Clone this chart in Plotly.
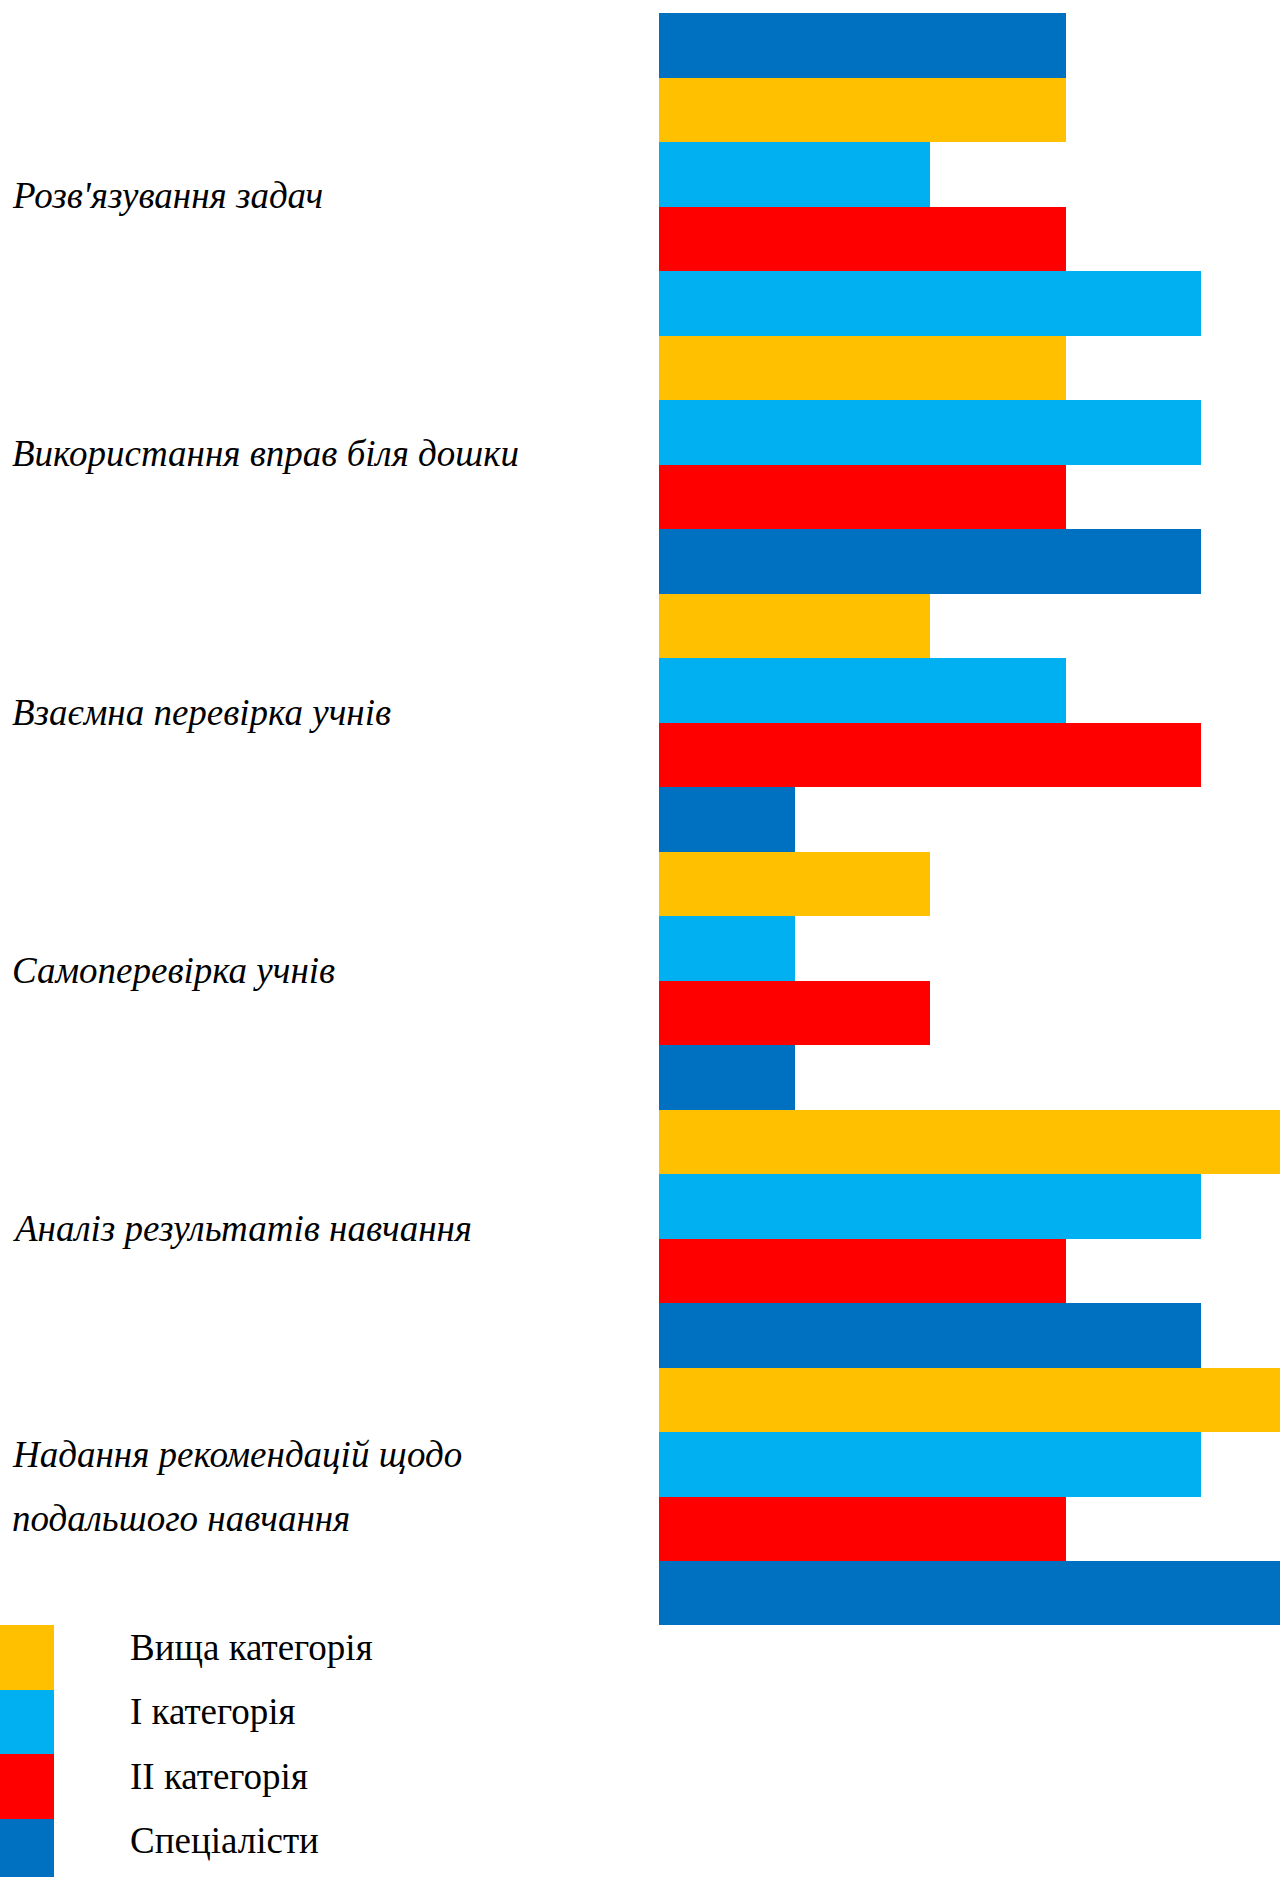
import plotly.graph_objects as go

# ---------------- data ----------------
categories = [
    "Розв'язування задач",
    "Використання вправ біля дошки",
    "Взаємна перевірка учнів",
    "Самоперевірка учнів",
    "Аналіз результатів навчання",
    "Надання рекомендацій щодо\nподальшого навчання",
]
series_names = ["Вища категорія", "І категорія", "ІІ категорія", "Спеціалісти"]
series_colors = ["#FFC000", "#00B0F0", "#FF0000", "#0070C0"]

# bars from top to bottom: series index and value
bar_series = [3, 0, 1, 2, 1, 0, 1, 2, 3, 0, 1, 2, 3, 0, 1, 2, 3, 0, 1, 2, 3, 0, 1, 2, 3]
bar_values = [3, 3, 2, 3, 4, 3, 4, 3, 4, 2, 3, 4, 1, 2, 1, 2, 1, 5, 4, 3, 4, 5, 4, 3, 5]

# ---------------- layout constants ----------------
W, H = 1280, 1877
FONT = "Liberation Serif"
FS = 37
bar_left_px = 659
unit_px = 135.5
top_px = 12.5
bar_h = 64.5
n = len(bar_values)
bottom_px = top_px + n * bar_h

fig = go.Figure()

for s, (name, col) in enumerate(zip(series_names, series_colors)):
    ys = [i for i, b in enumerate(bar_series) if b == s]
    xs = [bar_values[i] for i in ys]
    fig.add_trace(go.Bar(
        x=xs, y=ys, orientation="h", name=name,
        marker=dict(color=col, line=dict(width=0)),
        width=1.0, showlegend=False, xaxis="x", yaxis="y",
    ))
    # legend swatch drawn on its own small axis
    fig.add_trace(go.Bar(
        x=[1], y=[s], orientation="h", name=name,
        marker=dict(color=col, line=dict(width=0)),
        width=1.0, showlegend=False, xaxis="x2", yaxis="y2",
    ))

# category labels
annotations = []
for g, cat in enumerate(categories):
    lines = cat.split("\n")
    center = 2.5 + 4 * g
    k = len(lines)
    for j, line in enumerate(lines):
        off_px = (j - (k - 1) / 2) * 64
        annotations.append(dict(
            text=line, xref="paper", x=10 / W, xanchor="left",
            yref="y", y=center + off_px / bar_h, yanchor="middle", yshift=10,
            showarrow=False,
            font=dict(family=FONT, size=FS, color="black", style="italic"),
        ))

# legend texts
for s, name in enumerate(series_names):
    annotations.append(dict(
        text=name, xref="paper", x=128 / W, xanchor="left",
        yref="y2", y=s, yanchor="middle", yshift=10,
        showarrow=False,
        font=dict(family=FONT, size=FS, color="black"),
    ))

leg_top_px = bottom_px
leg_dom_top = 1 - leg_top_px / H
leg_range_bottom = -0.5 + (H - leg_top_px) / bar_h

fig.update_layout(
    width=W, height=H,
    margin=dict(l=0, r=0, t=0, b=0),
    paper_bgcolor="white", plot_bgcolor="white",
    barmode="overlay", bargap=0,
    showlegend=False,
    xaxis=dict(domain=[bar_left_px / W, 1], range=[0, (W - bar_left_px) / unit_px],
               visible=False, showgrid=False, zeroline=False, fixedrange=True),
    yaxis=dict(domain=[1 - bottom_px / H, 1 - top_px / H], range=[n - 0.5, -0.5],
               visible=False, showgrid=False, zeroline=False),
    xaxis2=dict(domain=[0, 54 / W], range=[0, 1], anchor="y2",
                visible=False, showgrid=False, zeroline=False),
    yaxis2=dict(domain=[0, leg_dom_top], range=[leg_range_bottom, -0.5], anchor="x2",
                visible=False, showgrid=False, zeroline=False),
    annotations=annotations,
)

fig.write_html("out.html", config={"displayModeBar": False},
               post_script="document.body.style.margin='0';")
